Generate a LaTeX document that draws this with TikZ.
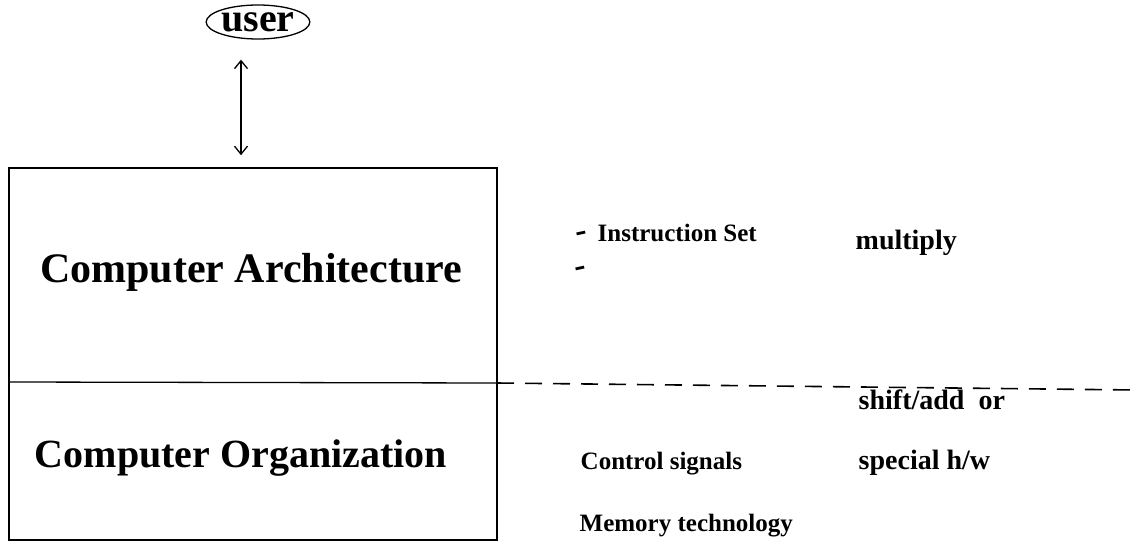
\documentclass[tikz,border=0pt]{standalone}
\usepackage{fontspec}
\setmainfont{Liberation Serif}
\usetikzlibrary{arrows,arrows.meta}
\usetikzlibrary{calc}
\usetikzlibrary{positioning}
\usetikzlibrary{shapes.geometric}

\begin{document}
\begin{tikzpicture}[x=1pt,y=-1pt,>={Straight Barb[length=8pt,width=13pt]},line width=1.4pt]
	\tikzstyle{big}=[font=\fontsize{42}{50}\selectfont\bfseries, inner sep=0pt, anchor=base]
	\tikzstyle{small}=[font=\fontsize{25}{30}\selectfont\bfseries, inner sep=0pt, anchor=base west]
	\tikzstyle{right}=[font=\fontsize{28}{33}\selectfont\bfseries, inner sep=0pt, anchor=base west]
	\tikzstyle{tick}=[font=\fontsize{34}{40}\selectfont\bfseries, inner sep=0pt, anchor=base west, rotate=12]
	\tikzstyle{layer}=[draw, line width=1.6pt, minimum width=488pt, minimum height=372pt, inner sep=0pt]
	\useasboundingbox (0,0) rectangle (1136,554);

	\node[ellipse, draw, line width=1.3pt, minimum width=102pt, minimum height=34pt, inner sep=0pt,
	      font=\fontsize{40}{44}\selectfont\bfseries] (U) at (258,22) {user};
	\node[layer] (B) at (253,354) {};

	% split between the two levels
	\coordinate (L) at (9,382);
	\coordinate (M) at (497,383);
	\coordinate (R) at (1136,390);
	\draw[line width=1.3pt] (L) -- (M);
	\draw[line width=1.6pt, dash pattern=on 17pt off 11pt] (M) -- (R);

	\coordinate (T) at (241,0);
	\draw[<->, line width=1.3pt, shorten <=20pt, shorten >=12pt] (U.south -| T) -- (B.north -| T);

	\node[big] (CA) at (251,282) {Computer Architecture};
	\node[big, font=\fontsize{40}{48}\selectfont\bfseries] (CO) at (241,467) {Computer Organization};

	\node[small] (I) at (597,241) {Instruction Set};
	\node[tick] (I1) at (577,243) {-};
	\node[tick] (I2) at (576,278) {-};
	\node[right] (MU) at (855,249) {multiply};
	\node[right] (SH) at (858,409) {shift/add \ or};
	\node[small] (CS) at (580,469) {Control signals};
	\node[right] (SP) at (858,469) {special h/w};
	\node[small] (MT) at (579,531) {Memory technology};
\end{tikzpicture}
\end{document}
